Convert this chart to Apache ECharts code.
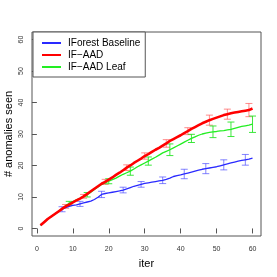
<!DOCTYPE html>
<html>
<head>
<meta charset="utf-8">
<script src="https://cdn.jsdelivr.net/npm/echarts@6/dist/echarts.min.js"></script>
<style>html,body{margin:0;padding:0;background:#fff}#c{width:277px;height:277px}</style>
</head>
<body>
<div id="c"></div>
<script>
var iters = [];
for (var i = 1; i <= 60; i++) iters.push(i);
var tickValues = [0, 10, 20, 30, 40, 50, 60];
var seriesNames = ['IForest Baseline', 'IF\u2212AAD', 'IF\u2212AAD Leaf'];

var baseline = [1.0,2.0,3.0,3.8,4.6,5.4,6.1,6.6,7.0,7.3,7.5,7.8,8.1,8.4,8.7,9.2,9.9,10.8,11.1,11.3,
  11.5,11.7,11.9,12.2,12.6,13.0,13.4,13.7,14.0,14.3,14.5,14.7,14.9,15.1,15.3,15.6,16.0,16.5,16.8,17.0,
  17.3,17.6,17.9,18.2,18.5,18.8,19.0,19.2,19.4,19.6,19.9,20.2,20.5,20.8,21.1,21.4,21.6,21.8,22.0,22.3];
var ifaad = [1.0,2.0,3.0,3.8,4.6,5.4,6.2,7.0,7.6,8.3,8.9,9.5,10.2,11.0,11.8,12.6,13.4,14.2,14.8,15.5,
  16.2,17.0,17.7,18.5,19.3,20.0,20.8,21.5,22.2,23.0,23.6,24.3,25.0,25.6,26.3,27.0,27.8,28.4,29.0,29.6,
  30.3,30.9,31.6,32.2,32.8,33.4,33.9,34.4,34.8,35.2,35.6,36.0,36.3,36.6,36.8,37.0,37.2,37.4,37.6,38.1];
var ifaadLeaf = [1.0,2.0,3.0,3.8,4.6,5.4,6.3,7.1,8.0,8.5,9.1,9.6,10.1,10.7,11.5,12.4,13.2,14.0,14.5,15.0,
  15.5,16.0,16.6,17.2,17.7,18.2,18.9,19.6,20.2,20.8,21.4,22.0,22.6,23.3,24.0,24.5,25.0,25.6,26.2,26.8,
  27.4,28.0,28.6,29.1,29.6,30.0,30.3,30.5,30.7,30.8,31.0,31.1,31.3,31.5,31.8,32.1,32.4,32.6,32.8,33.1];

var errItersBaseline = [7,12,18,24,29,35,41,47,52,58];
var errHalfBaseline  = [0.8,0.8,1.0,0.9,0.9,1.05,1.5,1.6,1.6,1.7];
var errItersIfaad = [8,13,19,25,30,36,42,48,53,59];
var errHalfIfaad  = [0.6,0.6,0.8,0.9,1.0,1.2,1.1,1.6,1.6,2.1];
var errItersLeaf = [9,14,20,26,31,37,43,49,54,60];
var errHalfLeaf  = [0.6,0.7,0.8,1.3,1.3,1.85,1.3,1.85,2.3,2.6];

function pairs(vals){ return iters.map(function(x,i){ return [x, vals[i]]; }); }
function errData(its, half, vals){
  return its.map(function(x,i){ var c = vals[x-1]; return [x, c-half[i], c+half[i]]; });
}
function errSeries(data, color){
  return {
    type: 'custom', silent: true, z: 1,
    data: data,
    renderItem: function(params, api){
      var x = api.value(0);
      var lo = api.coord([x, api.value(1)]);
      var hi = api.coord([x, api.value(2)]);
      var w = 3.5;
      var st = {stroke: color, lineWidth: 1};
      return {type:'group', children:[
        {type:'line', shape:{x1:lo[0],y1:lo[1],x2:hi[0],y2:hi[1]}, style:st},
        {type:'line', shape:{x1:lo[0]-w,y1:lo[1],x2:lo[0]+w,y2:lo[1]}, style:st},
        {type:'line', shape:{x1:hi[0]-w,y1:hi[1],x2:hi[0]+w,y2:hi[1]}, style:st}
      ]};
    }
  };
}

var font = 'Liberation Sans, Arial, Helvetica, sans-serif';
var chart = echarts.init(document.getElementById('c'), null, {renderer:'canvas'});
chart.setOption({
  animation: false,
  backgroundColor: '#fff',
  grid: {left: 32, right: 16, top: 32, bottom: 41, show: true, borderColor: '#555', borderWidth: 1,
         backgroundColor: 'transparent', containLabel: false, outerBoundsMode: 'none'},
  legend: {
    orient: 'vertical', left: 33, top: 32,
    data: seriesNames,
    borderColor: '#555', borderWidth: 1, borderRadius: 0,
    padding: [6, 5, 5, 8],
    itemWidth: 19, itemHeight: 10, itemGap: 2,
    itemStyle: {opacity: 0},
    textStyle: {fontFamily: font, fontSize: 10, color: '#000', padding: [0,0,0,2]},
    backgroundColor: '#fff'
  },
  xAxis: {
    type: 'value', min: -1.36, max: 62.36,
    name: 'iter', nameLocation: 'middle', nameGap: 22, nameMoveOverlap: false,
    nameTextStyle: {fontFamily: font, fontSize: 11, color: '#000'},
    axisLine: {show: false},
    axisTick: {show: true, length: 5, customValues: tickValues, lineStyle: {color: '#555'}},
    axisLabel: {customValues: tickValues, fontFamily: font, fontSize: 7, color: '#333', margin: 10},
    splitLine: {show: false}
  },
  yAxis: {
    type: 'value', min: -2.4, max: 62.4,
    name: '# anomalies seen', nameLocation: 'middle', nameGap: 18, nameRotate: 90, nameMoveOverlap: false,
    nameTextStyle: {fontFamily: font, fontSize: 11, color: '#000'},
    axisLine: {show: false},
    axisTick: {show: true, length: 5, customValues: tickValues, lineStyle: {color: '#555'}},
    axisLabel: {customValues: tickValues, rotate: 90, fontFamily: font, fontSize: 7, color: '#333', margin: 7},
    splitLine: {show: false}
  },
  series: [
    errSeries(errData(errItersBaseline, errHalfBaseline, baseline), 'rgba(80,80,255,0.7)'),
    errSeries(errData(errItersIfaad, errHalfIfaad, ifaad), 'rgba(255,90,90,0.7)'),
    errSeries(errData(errItersLeaf, errHalfLeaf, ifaadLeaf), 'rgba(40,230,40,0.9)'),
    {name: seriesNames[0], type: 'line', data: pairs(baseline), symbol: 'none', z: 3,
     lineStyle: {color: '#2a2aff', width: 1.3}, itemStyle: {color: '#2a2aff'}},
    {name: seriesNames[2], type: 'line', data: pairs(ifaadLeaf), symbol: 'none', z: 3,
     lineStyle: {color: '#22ee22', width: 1.3}, itemStyle: {color: '#22ee22'}},
    {name: seriesNames[1], type: 'line', data: pairs(ifaad), symbol: 'none', z: 4,
     lineStyle: {color: '#ff0000', width: 2.6}, itemStyle: {color: '#ff0000'}}
  ]
});
</script>
</body>
</html>
